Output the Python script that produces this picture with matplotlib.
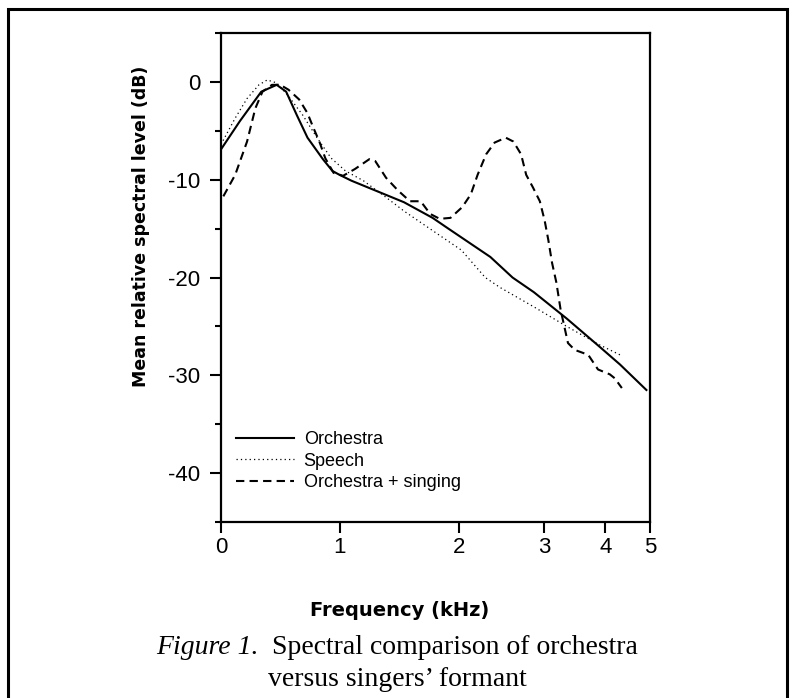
import numpy as np
import matplotlib.pyplot as plt
from matplotlib.patches import Rectangle
from matplotlib.offsetbox import TextArea, HPacker, AnnotationBbox
from matplotlib.ticker import MultipleLocator

plt.rcParams["font.family"] = ["Liberation Sans", "DejaVu Sans"]
plt.rcParams["axes.unicode_minus"] = False

# frequency (kHz) vs mean relative level (dB)
orch_khz = [0.0, 0.16, 0.34, 0.47, 0.55, 0.64, 0.73, 0.86, 0.94, 1.00, 1.10, 1.30,
            1.54, 1.78, 1.90, 2.03, 2.37, 2.63, 2.88, 3.37, 3.91, 4.33, 4.92]
orch_db = [-6.9, -4.0, -1.0, -0.3, -1.0, -3.4, -5.7, -7.9, -9.1, -9.5, -10.1, -11.1,
           -12.3, -13.9, -14.9, -15.9, -17.9, -20.0, -21.5, -24.2, -27.1, -28.9, -31.5]

speech_khz = [0.0, 0.12, 0.22, 0.32, 0.39, 0.47, 0.56, 0.69, 0.81, 0.93, 1.05, 1.20,
              1.39, 1.54, 1.78, 2.03, 2.31, 2.48, 2.88, 3.37, 3.91, 4.37]
speech_db = [-6.4, -3.7, -1.7, -0.3, 0.2, -0.1, -1.3, -3.4, -5.7, -7.8, -9.1, -10.1,
             -11.8, -13.2, -15.2, -17.2, -20.0, -21.0, -23.0, -25.0, -26.9, -28.0]

sing_khz = [0.02, 0.12, 0.22, 0.29, 0.35, 0.43, 0.50, 0.57, 0.66, 0.73, 0.78, 0.83,
            0.88, 0.95, 1.03, 1.13, 1.25, 1.30, 1.39, 1.49, 1.59, 1.68, 1.76, 1.84,
            1.93, 2.04, 2.14, 2.22, 2.32, 2.42, 2.55, 2.64, 2.73, 2.79, 2.87, 2.95,
            3.01, 3.07, 3.13, 3.20, 3.27, 3.33, 3.39, 3.50, 3.72, 3.88, 4.10, 4.21, 4.37]
sing_db = [-11.7, -9.5, -6.1, -2.7, -1.0, -0.3, -0.3, -0.8, -1.8, -3.2, -4.7, -6.1,
           -7.8, -9.3, -9.6, -8.9, -7.9, -8.1, -9.8, -11.1, -12.2, -12.2, -13.5, -14.0,
           -13.9, -12.8, -11.5, -9.5, -7.4, -6.2, -5.7, -6.1, -7.4, -9.5, -10.8, -12.2,
           -14.2, -16.2, -18.5, -20.5, -23.3, -25.0, -26.7, -27.4, -27.9, -29.4, -29.9, -30.3, -31.3]

labels = ["Orchestra", "Speech", "Orchestra + singing"]
khz_ticks = [0, 1, 2, 3, 4, 5]
db_ticks = [0, -10, -20, -30, -40]

# the frequency axis is warped (wider at low kHz), map tick values to axis fraction
tick_frac = [0, 0.2763, 0.5545, 0.7532, 0.8960, 1.0]


def fwd(x):
    return np.interp(x, khz_ticks, tick_frac)


def inv(u):
    return np.interp(u, tick_frac, khz_ticks)


fig = plt.figure(figsize=(7.94, 6.98), dpi=100)
ax = fig.add_axes([0.2783, 0.2521, 0.5403, 0.7006])
ax.set_xscale("function", functions=(fwd, inv))

l1, = ax.plot(orch_khz, orch_db, color="black", lw=1.5, label=labels[0])
l2, = ax.plot(speech_khz, speech_db, color="black", lw=0.9, linestyle=(0, (1, 2.5)), label=labels[1])
l3, = ax.plot(sing_khz, sing_db, color="black", lw=1.5, linestyle=(0, (4, 2.5)), label=labels[2])

ax.set_xlim(0, 5)
ax.set_ylim(-45, 5)
ax.set_xticks(khz_ticks)
ax.set_xticklabels([str(t) for t in khz_ticks])
ax.set_yticks(db_ticks)
ax.set_yticklabels([str(t) for t in db_ticks])
ax.yaxis.set_minor_locator(MultipleLocator(5))

for s in ax.spines.values():
    s.set_linewidth(1.6)
ax.tick_params(which="major", length=8, width=1.5, direction="out", labelsize=16)
ax.tick_params(which="minor", length=4.5, width=1.5, direction="out")
ax.tick_params(axis="y", pad=7)
ax.tick_params(axis="x", pad=3)

ax.legend(handles=[l1, l2, l3], loc="upper left", bbox_to_anchor=(0.035, 0.186),
          frameon=False, borderpad=0, borderaxespad=0, handlelength=3.2,
          handletextpad=0.55, labelspacing=0.26, prop={"size": 13})

fig.text(400 / 794, 1 - 610 / 698, "Frequency (kHz)", ha="center", va="center",
         family="DejaVu Sans", weight="bold", fontsize=14)
fig.text(141 / 794, 1 - 226 / 698, "Mean relative spectral level (dB)", rotation=90,
         ha="center", va="center", family="DejaVu Sans", weight="bold", fontsize=12.5)

# caption, first part in italics
serif = {"family": "Liberation Serif", "size": 20}
cap = HPacker(children=[TextArea("Figure 1.", textprops=dict(serif, style="italic")),
                        TextArea("  Spectral comparison of orchestra", textprops=serif)],
              align="baseline", pad=0, sep=0)
fig.add_artist(AnnotationBbox(cap, (0.5, 1 - 648 / 698), xycoords="figure fraction",
                              frameon=False, box_alignment=(0.5, 0.5)))
fig.text(0.5, 1 - 680 / 698, "versus singers\u2019 formant", ha="center", va="center", **serif)

# outer frame of the page figure (open at the bottom)
fig.add_artist(Rectangle((8 / 794, -0.05), (787 - 8) / 794, (698 - 9) / 698 + 0.05,
                         transform=fig.transFigure, fill=False, lw=2.2, edgecolor="black"))

fig.savefig("out.png", dpi=100)
